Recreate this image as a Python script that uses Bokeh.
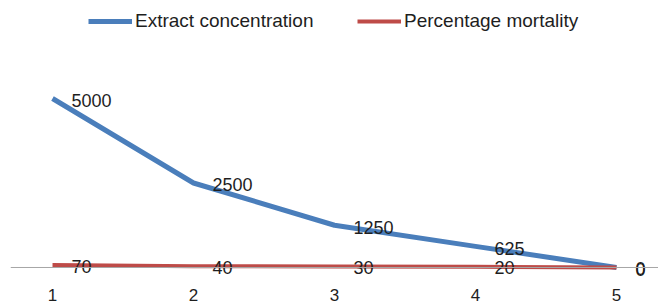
from bokeh.plotting import figure
from bokeh.models import Span, FixedTicker, Legend, LegendItem, Range1d, ColumnDataSource
from bokeh.core.properties import value
from bokeh.embed import file_html
from bokeh.resources import INLINE

points = [1, 2, 3, 4, 5]
concentration = [5000, 2500, 1250, 625, 0]
mortality = [70, 40, 30, 20, 0]
series_names = ["Extract concentration", "Percentage mortality"]

FONT = "Liberation Sans"
BLUE = "#4A7EBB"
RED = "#BE4B48"
TXT = "#1E1E1E"

p = figure(width=658, height=303, output_backend="svg", toolbar_location=None,
           x_range=Range1d(0.702, 5.298), y_range=Range1d(-385, 7899),
           min_border_left=10, min_border_right=0, min_border_top=0, min_border_bottom=23)
p.outline_line_color = None
p.xgrid.visible = False
p.ygrid.visible = False
p.yaxis.visible = False
p.background_fill_color = "white"
p.border_fill_color = "white"

p.xaxis.ticker = FixedTicker(ticks=points)
p.xaxis.axis_line_color = None
p.xaxis.major_tick_line_color = None
p.xaxis.minor_tick_line_color = None
p.xaxis.major_label_text_font = FONT
p.xaxis.major_label_text_font_size = "17px"
p.xaxis.major_label_text_color = TXT
p.xaxis.major_label_standoff = 2

p.add_layout(Span(location=0, dimension="width", line_color="#A6A6A6", line_width=1))

src = ColumnDataSource(dict(x=points, c=concentration, m=mortality,
                            cl=[str(v) for v in concentration],
                            ml=[str(v) for v in mortality]))

r1 = p.line("x", "c", source=src, line_color=BLUE, line_width=5)
r2 = p.line("x", "m", source=src, line_color=RED, line_width=4)

p.text("x", "c", text="cl", source=src, x_offset=19, y_offset=2,
       text_font=value(FONT), text_font_size="18px", text_color=TXT,
       text_baseline="middle", text_align="left")
p.text("x", "m", text="ml", source=src, x_offset=19, y_offset=1,
       text_font=value(FONT), text_font_size="18px", text_color=TXT,
       text_baseline="middle", text_align="left")

common = dict(orientation="horizontal", padding=0, margin=0, glyph_width=44, glyph_height=20,
              label_height=20, label_standoff=3, label_text_font=FONT,
              label_text_font_size="19px", label_text_color=TXT,
              background_fill_alpha=0, border_line_color=None)
leg1 = Legend(items=[LegendItem(label=series_names[0], renderers=[r1])],
              location=(78, 248), **common)
leg2 = Legend(items=[LegendItem(label=series_names[1], renderers=[r2])],
              location=(347, 248), **common)
p.add_layout(leg1)
p.add_layout(leg2)

open("out.html", "w").write(file_html(p, INLINE))
